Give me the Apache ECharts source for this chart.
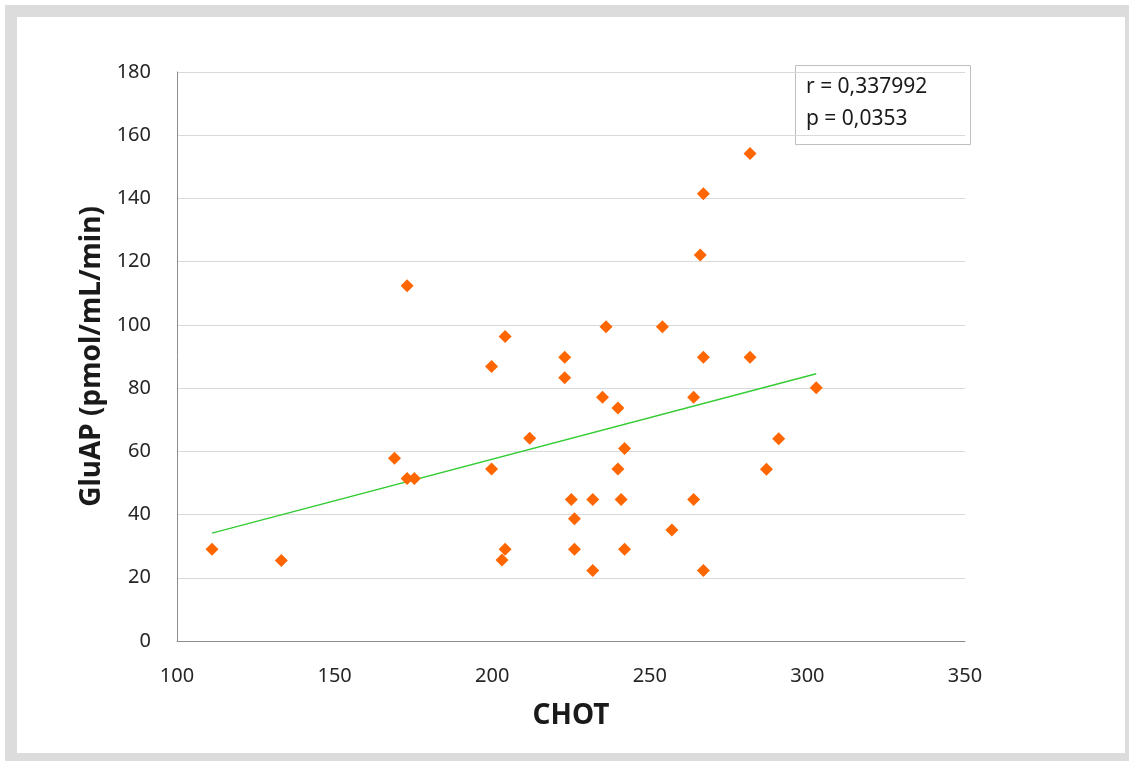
<!DOCTYPE html>
<html>
<head>
<meta charset="utf-8">
<script src="https://cdn.jsdelivr.net/npm/echarts@6/dist/echarts.min.js"></script>
<style>
  html, body { margin: 0; padding: 0; background: #ffffff; }
  #chart { width: 1129px; height: 761px; }
</style>
</head>
<body>
<div id="chart"></div>
<script>
// CHOT (x) against GluAP (y), one entry per subject
const chot = [111.1, 133.1, 169.0, 173.0, 173.0, 175.3, 199.8, 199.8, 203.1, 204.1,
              204.1, 211.9, 223.0, 223.0, 225.1, 226.1, 226.1, 231.9, 231.9, 235.0,
              236.1, 239.9, 239.9, 240.9, 242.0, 242.0, 254.0, 257.0, 263.9, 263.9,
              266.0, 267.0, 267.0, 267.0, 281.8, 281.8, 287.0, 290.9, 302.8];
const gluap = [29.0, 25.5, 57.8, 112.4, 51.4, 51.4, 86.8, 54.4, 25.6, 96.3,
               29.0, 64.1, 89.8, 83.3, 44.8, 38.7, 29.0, 44.8, 22.3, 77.1,
               99.4, 73.7, 54.4, 44.8, 60.9, 29.0, 99.4, 35.1, 77.1, 44.8,
               122.1, 141.5, 89.8, 22.3, 154.2, 89.8, 54.3, 64.0, 80.1];

const xTicks = [100, 150, 200, 250, 300, 350];
const yTicks = [0, 20, 40, 60, 80, 100, 120, 140, 160, 180];
const statLines = ['r = 0,337992', 'p = 0,0353'];

// least-squares fit drawn across the observed CHOT range
function linearFit(xs, ys) {
  const n = xs.length;
  let sx = 0, sy = 0, sxx = 0, sxy = 0;
  for (let i = 0; i < n; i++) {
    sx += xs[i]; sy += ys[i]; sxx += xs[i] * xs[i]; sxy += xs[i] * ys[i];
  }
  const b = (n * sxy - sx * sy) / (n * sxx - sx * sx);
  const a = (sy - b * sx) / n;
  return { a, b };
}
const fit = linearFit(chot, gluap);
const xMin = Math.min(...chot), xMax = Math.max(...chot);
const trend = [[xMin, fit.a + fit.b * xMin], [xMax, fit.a + fit.b * xMax]];

const points = chot.map((x, i) => [x, gluap[i]]);

const labelFont = '"Noto Sans", "Open Sans", sans-serif';

const chart = echarts.init(document.getElementById('chart'), null, { renderer: 'canvas' });
chart.setOption({
  animation: false,
  backgroundColor: '#ffffff',
  grid: { left: 177, right: 164, top: 72, bottom: 120, containLabel: false },
  xAxis: {
    type: 'value',
    min: xTicks[0],
    max: xTicks[xTicks.length - 1],
    interval: 50,
    name: 'CHOT',
    nameLocation: 'middle',
    nameGap: 61,
    nameTextStyle: { fontFamily: labelFont, fontSize: 28, fontWeight: 'bold', color: '#1a1a1a' },
    axisLine: { show: true, lineStyle: { color: '#8c8c8c', width: 1 } },
    axisTick: { show: false },
    splitLine: { show: false },
    axisLabel: { fontFamily: labelFont, fontSize: 20, color: '#262626', margin: 25 }
  },
  yAxis: {
    type: 'value',
    min: yTicks[0],
    max: yTicks[yTicks.length - 1],
    interval: 20,
    name: 'GluAP (pmol/mL/min)',
    nameLocation: 'middle',
    nameGap: 70,
    nameRotate: 90,
    nameTextStyle: { fontFamily: labelFont, fontSize: 28, fontWeight: 'bold', color: '#1a1a1a' },
    axisLine: { show: true, lineStyle: { color: '#8c8c8c', width: 1 } },
    axisTick: { show: false },
    splitLine: { show: true, lineStyle: { color: '#d9d9d9', width: 1 } },
    axisLabel: { fontFamily: labelFont, fontSize: 20, color: '#262626', margin: 26 }
  },
  series: [
    {
      type: 'line',
      data: trend,
      symbol: 'none',
      lineStyle: { color: '#33cc33', width: 1.4 },
      z: 2,
      silent: true
    },
    {
      type: 'scatter',
      data: points,
      symbol: 'diamond',
      symbolSize: 13,
      itemStyle: { color: '#ff6600', opacity: 1 },
      z: 3
    }
  ],
  graphic: [
    // outer frame
    {
      type: 'rect',
      shape: { x: 11, y: 11, width: 1120, height: 748 },
      style: { fill: 'none', stroke: '#dcdcdc', lineWidth: 12 },
      silent: true,
      z: 100
    },
    // statistics box
    {
      type: 'group',
      left: 795,
      top: 65,
      z: 50,
      children: [
        {
          type: 'rect',
          shape: { x: 0.5, y: 0.5, width: 175, height: 79 },
          style: { fill: '#ffffff', stroke: '#bfbfbf', lineWidth: 1 }
        },
        {
          type: 'text',
          x: 11,
          y: 12,
          style: { text: statLines[0], font: '21px ' + labelFont, fill: '#1a1a1a' }
        },
        {
          type: 'text',
          x: 11,
          y: 44,
          style: { text: statLines[1], font: '21px ' + labelFont, fill: '#1a1a1a' }
        }
      ]
    }
  ]
});
</script>
</body>
</html>
